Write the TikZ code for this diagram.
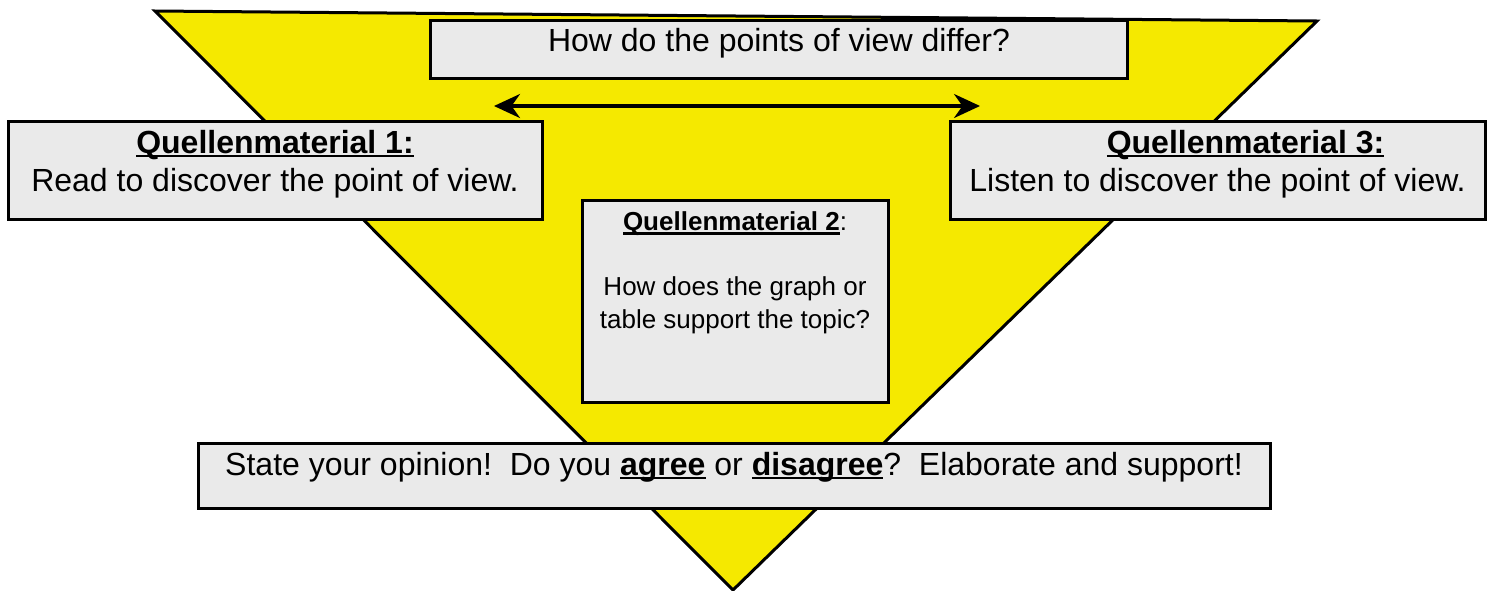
\documentclass[tikz,border=0pt]{standalone}
\usepackage{fontspec}
\setmainfont{Liberation Sans}
\usetikzlibrary{arrows.meta}
\definecolor{tri}{HTML}{F5E900}
\definecolor{boxgray}{HTML}{EAEAEA}
\newcommand\myul[1]{\setbox0\hbox{#1}\rlap{\rule[-1.9pt]{\wd0}{1.1pt}}\box0}
\tikzset{
  box/.style={draw=black, line width=1.5pt, fill=boxgray, inner sep=0pt, align=center},
  lbl/.style={inner sep=0pt, align=center},
  tritop/.style={draw=black, line width=1.5pt, fill=tri, line join=miter},
  dblarrow/.style={line width=1.6pt, {Stealth[length=13pt,width=12pt]}-{Stealth[length=13pt,width=12pt]}}
}
\begin{document}
\begin{tikzpicture}[x=0.5pt,y=-0.5pt]
\useasboundingbox (0,0) rectangle (1491,590);
\coordinate (tl) at (155,11);
\coordinate (tr) at (1317,21);
\coordinate (bt) at (733,590);
\draw[tritop] (tl) -- (tr) -- (bt) -- cycle;

\node[box, minimum width=348.5pt, minimum height=29pt] (top) at (778.5,49) {};
\node[lbl, font=\fontsize{16}{19}\selectfont] (topt) at (779,43) {How do the points of view differ?};

\node[box, minimum width=267pt, minimum height=49pt] (q1) at (275,170) {};
\node[lbl, font=\fontsize{16}{19}\selectfont] (q1t) at (275,164)
  {\textbf{\myul{Quellenmaterial 1:}}\\Read to discover the point of view.};
\node[box, minimum width=267.5pt, minimum height=49pt] (q3) at (1217.5,170) {};
\node[lbl, font=\fontsize{16}{19}\selectfont] (q3t) at (1217.5,164)
  {\hspace*{28pt}\textbf{\myul{Quellenmaterial 3:}}\\Listen to discover the point of view.};

\node[box, minimum width=153pt, minimum height=101pt] (q2) at (735,301) {};
\node[lbl, anchor=north, font=\fontsize{13}{16.5}\selectfont] (q2t) at ([yshift=-6.5pt]q2.north)
  {\textbf{\myul{Quellenmaterial 2}}:\\[16pt]How does the graph or\\table support the topic?};

\node[box, minimum width=536pt, minimum height=32.5pt] (op) at (734,475.5) {};
\node[lbl, font=\fontsize{16}{19}\selectfont] (opt) at (734,467)
  {State your opinion!\ \ Do you \textbf{\myul{agree}} or \textbf{\myul{disagree}}?\ \ Elaborate and support!};

\coordinate (al) at (494,106);
\coordinate (ar) at (980,106);
\draw[dblarrow] (al) -- (ar);
\end{tikzpicture}
\end{document}
